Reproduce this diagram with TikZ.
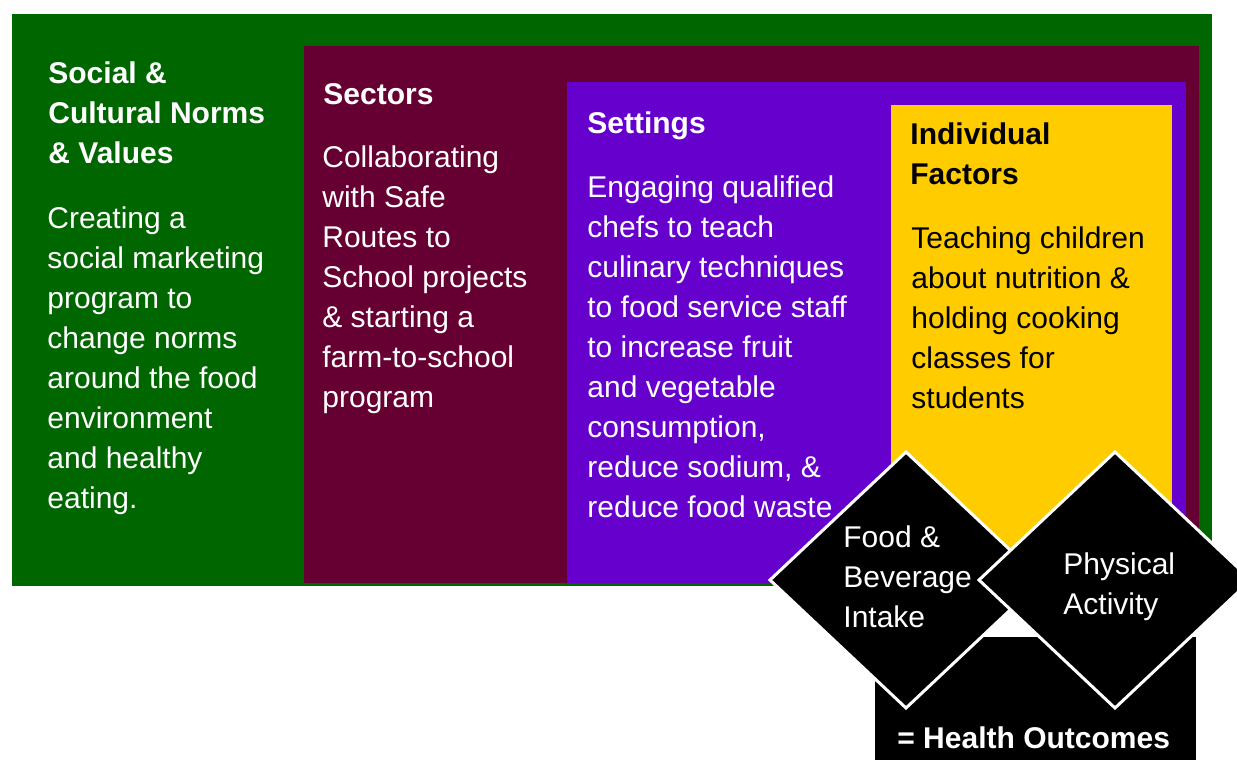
\documentclass[tikz,border=0pt]{standalone}
\usepackage{fontspec}
\setmainfont{Liberation Sans}
\definecolor{normsgreen}{RGB}{0,102,0}
\definecolor{sectorred}{RGB}{102,0,51}
\definecolor{settingpurple}{RGB}{102,0,204}
\definecolor{factoryellow}{RGB}{255,204,0}
\begin{document}
\begin{tikzpicture}[x=0.5pt,y=-0.5pt,
    lbl/.style={anchor=north west,inner sep=0pt,align=left,text=white,
      font=\fontsize{15}{20}\selectfont},
    head/.style={lbl,font=\fontsize{15}{20}\selectfont\bfseries},
    rhomb/.style={fill=black,draw=white,line width=1.5pt}]
        \useasboundingbox (0,0) rectangle (1237,760);
        % nested boxes
        \fill[normsgreen] (12,14) rectangle (1212,586);
        \fill[sectorred] (304,46) rectangle (1199,583);
        \fill[settingpurple] (567,82) rectangle (1186,583);
        \fill[factoryellow] (891,105) rectangle (1172,560);
        \fill[black] (875,637) rectangle (1196,760);
        % behaviours
        \filldraw[rhomb] (906,452) -- (1042,580) -- (906,708) -- (770,580) -- cycle;
        \filldraw[rhomb] (1115,452) -- (1251,580) -- (1115,708) -- (979,580) -- cycle;
        % texts
        \draw (48,55) node[head](normshead){\strut Social \&\\Cultural Norms\\\& Values};
        \draw (47,200) node[lbl](normsbody){\strut Creating a\\social marketing\\program to\\change norms\\around the food\\environment\\and healthy\\eating.};
        \draw (323,76) node[head](sectorshead){\strut Sectors};
        \draw (322,139) node[lbl](sectorsbody){\strut Collaborating\\with Safe\\Routes to\\School projects\\\& starting a\\farm-to-school\\program};
        \draw (587,105) node[head](settingshead){\strut Settings};
        \draw (587,169) node[lbl](settingsbody){\strut Engaging qualified\\chefs to teach\\culinary techniques\\to food service staff\\to increase fruit\\and vegetable\\consumption,\\reduce sodium, \&\\reduce food waste};
        \draw (910,116) node[head,text=black](factorshead){\strut Individual\\Factors};
        \draw (911,220) node[lbl,text=black](factorsbody){\strut Teaching children\\about nutrition \&\\holding cooking\\classes for\\students};
        \draw (843,519) node[lbl](intake){\strut Food \&\\Beverage\\Intake};
        \draw (1063,546) node[lbl](activity){\strut Physical\\Activity};
        \draw (897,720) node[head](outcomes){\strut = Health Outcomes};
\end{tikzpicture}
\end{document}
